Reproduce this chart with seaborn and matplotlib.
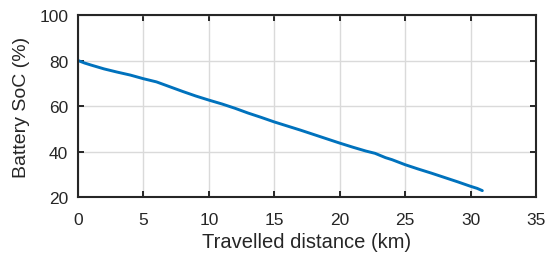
import pandas as pd
import seaborn as sns
import matplotlib.pyplot as plt

# distance (km) vs battery state of charge (%)
distance_km = [0, 0.5, 1, 2, 3, 4, 5, 6, 7, 8, 9, 10, 11, 12, 13, 14, 15, 16, 17,
               18, 19, 20, 21, 22, 22.7, 23.5, 24, 25, 26, 27, 28, 29, 30, 30.5, 30.9]
soc_pct = [80, 78.9, 78.0, 76.3, 74.9, 73.6, 72.0, 70.6, 68.5, 66.4, 64.4, 62.6, 60.9,
           59.0, 56.9, 55.0, 53.0, 51.2, 49.4, 47.5, 45.6, 43.7, 41.9, 40.2, 39.2, 37.3,
           36.4, 34.2, 32.3, 30.5, 28.6, 26.7, 24.7, 23.8, 22.8]
x_ticks = [0, 5, 10, 15, 20, 25, 30, 35]
y_ticks = [20, 40, 60, 80, 100]

df = pd.DataFrame({'Distance': distance_km, 'SoC': soc_pct})

sns.set_style("ticks")
plt.rcParams['font.family'] = ['Liberation Sans', 'DejaVu Sans']

fig = plt.figure(figsize=(5.45, 2.55), dpi=100)
ax = fig.add_axes([0.1431, 0.2235, 0.8404, 0.7137])

sns.lineplot(data=df, x='Distance', y='SoC', color='#0072BD', linewidth=2.1, ax=ax)

ax.set_xlim(0, 35)
ax.set_ylim(20, 100)
ax.set_xticks(x_ticks)
ax.set_yticks(y_ticks)
ax.grid(True, color='#dadada', linewidth=1.0)
ax.set_axisbelow(True)
ax.tick_params(direction='in', top=True, right=True, length=4, width=1.4,
               labelsize=12.5, colors='#262626', labelcolor='#262626')
ax.tick_params(axis='x', pad=11)
ax.tick_params(axis='y', pad=7)
for s in ax.spines.values():
    s.set_visible(True)
    s.set_color('#262626')
    s.set_linewidth(1.5)
ax.set_xlabel("Travelled distance (km)", fontsize=14.5, color='#262626', labelpad=3.5)
ax.set_ylabel("Battery SoC (%)", fontsize=14, color='#262626', labelpad=7)

plt.savefig("out.png", dpi=100)
